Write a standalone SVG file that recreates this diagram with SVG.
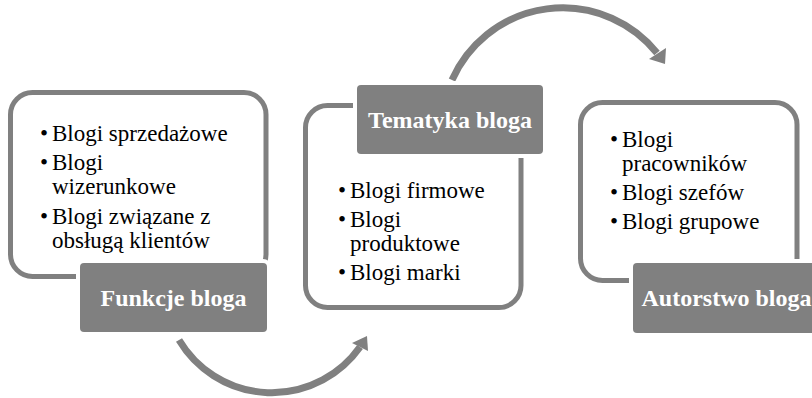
<svg xmlns="http://www.w3.org/2000/svg" width="812" height="398" viewBox="0 0 812 398">
<style>
.frame{fill:#fff;stroke:#808080;stroke-width:5}
.label{fill:#808080;stroke:#fff;stroke-width:8;paint-order:stroke}
.lt{font-family:"Liberation Serif","Times New Roman",serif;font-weight:bold;font-size:24px;fill:#fff;text-anchor:middle}
.bt{font-family:"Liberation Serif","Times New Roman",serif;font-size:23px;fill:#000}
.arc{fill:none;stroke:#808080;stroke-width:7}
.head{fill:#808080}
</style>
<rect width="812" height="398" fill="#fff"/>
<g id="connectors">
<path class="arc" d="M179,340 A108,108 0 0 0 360,347"/>
<polygon class="head" points="352,343 368,351 367,336"/>
<path class="arc" d="M452,80 A121,121 0 0 1 657,53"/>
<polygon class="head" points="649,59 666,48 665,64"/>
</g>
<g id="funkcje">
<rect class="frame" x="10.5" y="92.5" width="255.5" height="184" rx="22"/>
<text class="bt" x="40" y="141">•</text><text class="bt" x="52" y="141">Blogi sprzedażowe</text>
<text class="bt" x="40" y="170">•</text><text class="bt" x="52" y="170">Blogi</text>
<text class="bt" x="52" y="194">wizerunkowe</text>
<text class="bt" x="40" y="224">•</text><text class="bt" x="52" y="224">Blogi związane z</text>
<text class="bt" x="52" y="248">obsługą klientów</text>
<rect class="label" x="80" y="263" width="187" height="69" rx="4"/>
<text class="lt" x="173.5" y="306">Funkcje bloga</text>
</g>
<g id="tematyka">
<rect class="frame" x="305.5" y="105.5" width="215.5" height="202" rx="22"/>
<text class="bt" x="338" y="198">•</text><text class="bt" x="350" y="198">Blogi firmowe</text>
<text class="bt" x="338" y="227">•</text><text class="bt" x="350" y="227">Blogi</text>
<text class="bt" x="350" y="251">produktowe</text>
<text class="bt" x="338" y="280">•</text><text class="bt" x="350" y="280">Blogi marki</text>
<rect class="label" x="357" y="85" width="186" height="69" rx="4"/>
<text class="lt" x="450" y="128">Tematyka bloga</text>
</g>
<g id="autorstwo">
<rect class="frame" x="580.5" y="102.5" width="216.5" height="178" rx="22"/>
<text class="bt" x="610" y="147">•</text><text class="bt" x="622" y="147">Blogi</text>
<text class="bt" x="622" y="171">pracowników</text>
<text class="bt" x="610" y="200">•</text><text class="bt" x="622" y="200">Blogi szefów</text>
<text class="bt" x="610" y="229">•</text><text class="bt" x="622" y="229">Blogi grupowe</text>
<rect class="label" x="633" y="263" width="187" height="70" rx="4"/>
<text class="lt" x="726.5" y="306">Autorstwo bloga</text>
</g>
</svg>
